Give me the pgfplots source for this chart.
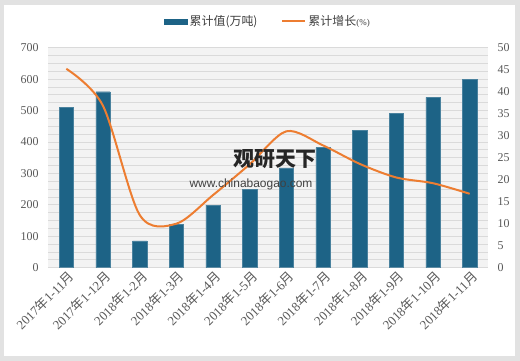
\documentclass[border=0pt]{standalone}
\usepackage{fontspec}
\setmainfont{Liberation Serif}
\setsansfont{Liberation Sans}
\newfontfamily\cjk{Noto Sans CJK SC}
\usepackage{pgfplots}
\pgfplotsset{compat=1.18}
\definecolor{barc}{RGB}{29,99,134}
\definecolor{linec}{RGB}{237,125,49}
\definecolor{tickc}{RGB}{89,89,89}
\definecolor{bgc}{RGB}{243,243,243}
\definecolor{gridc}{RGB}{218,218,218}
\definecolor{framec}{RGB}{226,226,226}
\definecolor{legc}{RGB}{64,64,64}

\begin{document}
\begin{tikzpicture}
\fill[framec] (0,0) rectangle (520bp,361bp);
\fill[white] (4bp,5bp) rectangle (515bp,356bp);
\useasboundingbox (0,0) rectangle (520bp,361bp);
\begin{axis}[
  at={(48bp,93.3bp)}, anchor=south west,
  scale only axis, width=440bp, height=220bp,
  xmin=-0.5, xmax=11.5, ymin=0, ymax=700,
  axis background/.style={fill=bgc},
  axis line style={draw=none},
  tick style={draw=none},
  ytick={0,100,...,700},
  minor y tick num=3,
  ymajorgrids, yminorgrids,
  major grid style={gridc, line width=0.8bp},
  minor grid style={gridc, line width=0.8bp},
  xtick={0,...,11},
  xticklabels={
    {2017{\cjk 年}1-11{\cjk 月}},
    {2017{\cjk 年}1-12{\cjk 月}},
    {2018{\cjk 年}1-2{\cjk 月}},
    {2018{\cjk 年}1-3{\cjk 月}},
    {2018{\cjk 年}1-4{\cjk 月}},
    {2018{\cjk 年}1-5{\cjk 月}},
    {2018{\cjk 年}1-6{\cjk 月}},
    {2018{\cjk 年}1-7{\cjk 月}},
    {2018{\cjk 年}1-8{\cjk 月}},
    {2018{\cjk 年}1-9{\cjk 月}},
    {2018{\cjk 年}1-10{\cjk 月}},
    {2018{\cjk 年}1-11{\cjk 月}}},
  xticklabel style={rotate=45, anchor=east, font=\fontsize{13}{14}\selectfont, text=tickc, inner sep=0.5bp, yshift=-5bp, xshift=3bp},
  yticklabel style={font=\fontsize{12}{13}\selectfont, text=tickc, xshift=-6bp},
  /pgf/number format/assume math mode=true,
  ybar, bar width=14.3bp,
]
\addplot[fill=barc, draw=barc!80!white, line width=0.4bp] coordinates {
(0,510) (1,560) (2,85) (3,138) (4,199) (5,250) (6,318) (7,382) (8,438) (9,491) (10,542) (11,599)};
\end{axis}
\begin{axis}[
  at={(48bp,93.3bp)}, anchor=south west,
  scale only axis, width=440bp, height=220bp,
  xmin=-0.5, xmax=11.5, ymin=0, ymax=50,
  axis y line*=right,
  axis line style={draw=none},
  tick style={draw=none},
  hide x axis,
  ytick={0,5,...,50},
  yticklabel style={font=\fontsize{12}{13}\selectfont, text=tickc, xshift=6bp},
  /pgf/number format/assume math mode=true,
  legend style={at={(0.5,1.12)}, anchor=center, draw=none, fill=none,
    legend columns=2, font=\fontsize{12}{14}\selectfont, text=legc,
    /tikz/every even column/.append style={column sep=22bp}},
]
\addlegendimage{legend image code/.code={\fill[barc] (0bp,-2.5bp) rectangle (23bp,2.5bp);}}
\addlegendentry{{\cjk 累计值(万吨)}}
\addplot[color=linec, line width=2bp, smooth, no markers,
  legend image code/.code={\draw[linec, line width=2bp] (0bp,0bp) -- (23bp,0bp);}] coordinates {
(0,45.2) (1,36.8) (2,12.0) (3,10.0) (4,16.5) (5,23.5) (6,31.0) (7,27.8) (8,23.6) (9,20.5) (10,19.2) (11,16.8)};
\addlegendentry{{\cjk 累计增长}{\fontsize{9}{10}\selectfont(\%)}}
\end{axis}
\node[font=\cjk\bfseries\fontsize{21}{22}\selectfont, text=black!85] at (275bp,202bp) {观研天下};
\node[font=\sffamily\fontsize{12}{13}\selectfont, text=black!75] at (251bp,177bp) {www.chinabaogao.com};
\end{tikzpicture}
\end{document}
